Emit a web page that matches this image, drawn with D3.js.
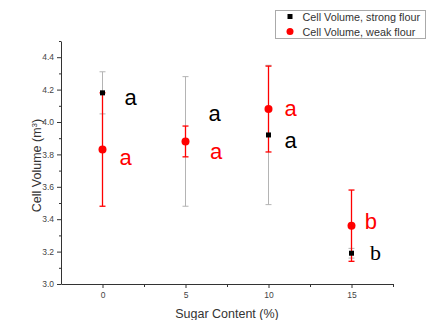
<!DOCTYPE html>
<html>
<head>
<meta charset="utf-8">
<script src="https://cdn.jsdelivr.net/npm/d3@7"></script>
<style>
  body { margin: 0; background: #fff; }
  svg { display: block; font-family: Arial, "Liberation Sans", sans-serif; }
</style>
</head>
<body>
<script>
// Chart data
const sugar = [0, 5, 10, 15];
const strongMean = [4.18, 3.88, 3.92, 3.19];
const strongErr = [0.13, 0.40, 0.43, 0.03];
const weakMean = [3.83, 3.88, 4.08, 3.36];
const weakErr = [0.35, 0.095, 0.265, 0.22];

const yTicks = [3.0, 3.2, 3.4, 3.6, 3.8, 4.0, 4.2, 4.4];
const xTicks = [0, 5, 10, 15];

// significance letters, placed in data units
const letterText = ['a', 'a', 'a', 'a', 'a', 'a', 'b', 'b'];
const letterSeries = ['strong', 'weak', 'strong', 'weak', 'weak', 'strong', 'weak', 'strong'];
const letterX = [1.70, 1.39, 6.75, 6.84, 11.33, 11.33, 16.16, 16.45];
const letterY = [4.103, 3.735, 4.006, 3.770, 4.037, 3.841, 3.340, 3.148];

const width = 437, height = 320;
const x0 = 61, x1 = 393, yBottom = 284, yTop = 41;

const svg = d3.select('body').append('svg')
  .attr('width', width)
  .attr('height', height);

const x = d3.scaleLinear().domain([-2.5, 17.5]).range([x0, x1]);
const y = d3.scaleLinear().domain([3.0, 4.5]).range([yBottom, yTop]);

const axisColor = '#333';

// minor ticks first
svg.append('g')
  .attr('transform', `translate(${x0},0)`)
  .call(d3.axisLeft(y).tickValues(d3.range(3.1, 4.55, 0.2)).tickSize(2).tickFormat(''))
  .call(g => g.select('.domain').remove());
svg.append('g')
  .attr('transform', `translate(0,${yBottom})`)
  .call(d3.axisBottom(x).tickValues([2.5, 7.5, 12.5, 17.5]).tickSize(3).tickFormat(''))
  .call(g => g.select('.domain').remove());

const yAxis = svg.append('g')
  .attr('transform', `translate(${x0},0)`)
  .call(d3.axisLeft(y).tickValues(yTicks).tickSize(4).tickSizeOuter(0).tickPadding(3).tickFormat(d3.format('.1f')));
const xAxis = svg.append('g')
  .attr('transform', `translate(0,${yBottom})`)
  .call(d3.axisBottom(x).tickValues(xTicks).tickSize(4).tickSizeOuter(0).tickPadding(4));

svg.selectAll('.tick line, .domain').attr('stroke', axisColor);
svg.selectAll('.tick text').attr('fill', '#444').style('font-size', '8.5px')
  .style('font-family', 'Arial, "Liberation Sans", sans-serif');

// axis titles
svg.append('text')
  .attr('transform', `translate(41,${(yBottom + yTop) / 2 + 3}) rotate(-90)`)
  .attr('text-anchor', 'middle')
  .attr('fill', '#333')
  .style('font-size', '12.5px')
  .call(t => {
    t.append('tspan').text('Cell Volume (m');
    t.append('tspan').attr('baseline-shift', 'super').style('font-size', '8px').text('3');
    t.append('tspan').text(')');
  });

svg.append('text')
  .attr('x', x(7.5))
  .attr('y', 318)
  .attr('text-anchor', 'middle')
  .attr('fill', '#333')
  .style('font-size', '12.5px')
  .text('Sugar Content (%)');

// error bars
function errorBars(means, errs, color, width) {
  const g = svg.append('g').attr('stroke', color).attr('stroke-width', width);
  sugar.forEach((s, i) => {
    const cx = x(s), lo = y(means[i] - errs[i]), hi = y(means[i] + errs[i]);
    g.append('line').attr('x1', cx).attr('x2', cx).attr('y1', lo).attr('y2', hi);
    g.append('line').attr('x1', cx - 3).attr('x2', cx + 3).attr('y1', lo).attr('y2', lo);
    g.append('line').attr('x1', cx - 3).attr('x2', cx + 3).attr('y1', hi).attr('y2', hi);
  });
}
errorBars(strongMean, strongErr, '#b4b4b4', 1);
errorBars(weakMean, weakErr, '#ff0000', 1.3);

svg.selectAll('rect.strong')
  .data(sugar)
  .enter()
  .append('rect')
  .attr('class', 'strong')
  .attr('x', (d) => x(d) - 2.5)
  .attr('y', (d, i) => y(strongMean[i]) - 2.5)
  .attr('width', 5)
  .attr('height', 5)
  .attr('fill', '#000');

svg.selectAll('circle.weak')
  .data(sugar)
  .enter()
  .append('circle')
  .attr('class', 'weak')
  .attr('cx', (d) => x(d))
  .attr('cy', (d, i) => y(weakMean[i]))
  .attr('r', 4)
  .attr('fill', '#ff0000');

// letters
svg.selectAll('text.letter')
  .data(letterText)
  .enter()
  .append('text')
  .attr('class', 'letter')
  .attr('x', (d, i) => x(letterX[i]))
  .attr('y', (d, i) => y(letterY[i]))
  .attr('text-anchor', 'middle')
  .attr('fill', (d, i) => letterSeries[i] === 'weak' ? '#ff0000' : '#000')
  .style('font-size', '22px')
  .style('font-family', (d, i) => i === 7 ? '"Liberation Serif", "Times New Roman", serif' : 'Arial, "Liberation Sans", sans-serif')
  .text((d) => d);

// legend
const legend = svg.append('g').attr('transform', 'translate(275.5,10.5)');
legend.append('rect')
  .attr('width', 150)
  .attr('height', 28)
  .attr('fill', '#fff')
  .attr('stroke', '#aaa');
legend.append('rect').attr('x', 12).attr('y', 3.5).attr('width', 5).attr('height', 5).attr('fill', '#000');
legend.append('circle').attr('cx', 14.5).attr('cy', 21).attr('r', 3.5).attr('fill', '#ff0000');
legend.append('text').attr('x', 27).attr('y', 10).attr('fill', '#333').style('font-size', '10.8px')
  .text('Cell Volume, strong flour');
legend.append('text').attr('x', 27).attr('y', 25).attr('fill', '#333').style('font-size', '10.8px')
  .text('Cell Volume, weak flour');
</script>
</body>
</html>
